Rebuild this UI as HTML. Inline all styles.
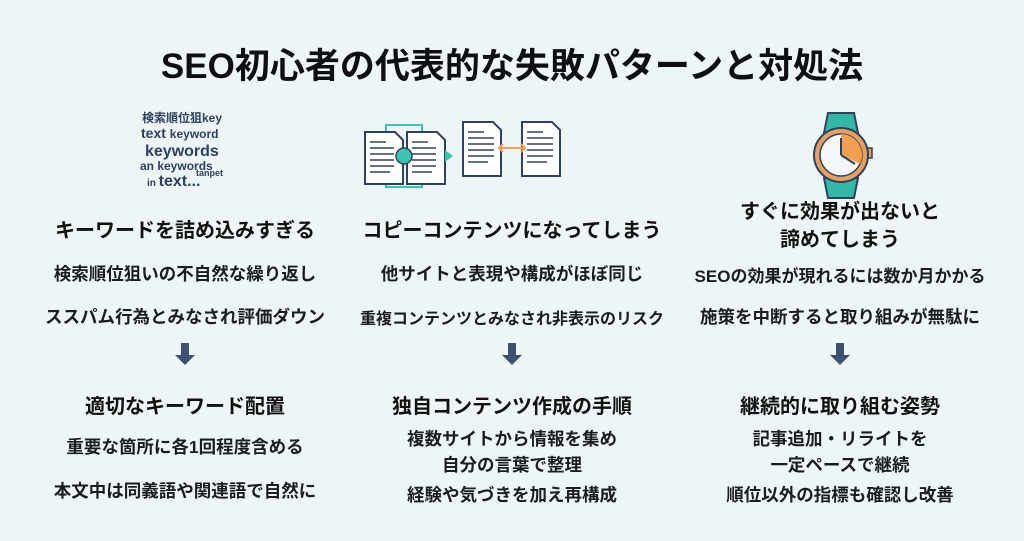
<!DOCTYPE html>
<html><head><meta charset="utf-8"><style>
body{margin:0;width:1024px;height:541px;background:#eef5f7;font-family:"Liberation Sans","Noto Sans CJK JP",sans-serif;color:#111;position:relative;overflow:hidden}
.t{position:absolute;white-space:nowrap;transform:translateX(-50%);text-align:center}
.title{font-size:35px;font-weight:bold;top:38px;left:512px;color:#0e0f12}
.h{font-size:20px;font-weight:bold;color:#111}
.b{font-size:17.5px;font-weight:bold;color:#1a1d22}
</style></head><body>
<div class="t title">SEO初心者の代表的な失敗パターンと対処法</div>

<svg style="position:absolute;left:0;top:0" width="1024" height="541">
<g font-family="Liberation Sans, Noto Sans CJK JP, sans-serif" fill="#2f4160" font-weight="bold">
<text x="142" y="122" font-size="12">検索順位狙key</text>
<text x="141" y="138" font-size="14">text <tspan font-size="12">keyword</tspan></text>
<text x="145" y="156" font-size="16">keywords</text>
<text x="140" y="170" font-size="12">an keywords</text>
<text x="147" y="186" font-size="10">in <tspan font-size="16">text...</tspan></text>
<text x="196" y="176" font-size="9">tanpet</text>
</g>
<rect x="386" y="125" width="36" height="62" fill="none" stroke="#3cc4b0" stroke-width="2"/>
<g stroke="#2f4160" stroke-width="2" fill="#fff">
<path d="M365 132h30l8 8v44h-38z"/><path d="M407 132h30l8 8v44h-38z"/>
<path d="M463 122h30l8 8v46h-38z"/><path d="M522 122h30l8 8v46h-38z"/>
</g>
<g stroke="#2f4160" stroke-width="1.5">
<path d="M370 142h16M370 148h24M370 154h24M370 160h24M370 166h24M370 172h20M412 142h16M412 148h24M412 154h24M412 160h24M412 166h24M412 172h20"/>
<path d="M468 132h16M468 138h26M468 144h26M468 150h26M468 156h26M468 162h20M527 132h16M527 138h26M527 144h26M527 150h26M527 156h26M527 162h20"/>
</g>
<circle cx="404" cy="156" r="8" fill="#3cc4b0" stroke="#2f4160" stroke-width="1.5"/>
<path d="M445 150l8 6-8 6z" fill="#3cc4b0"/>
<path d="M499 148h26M503 144l-4 4 4 4M521 144l4 4-4 4" stroke="#f0a050" stroke-width="2" fill="none"/>
<path d="M828 113h26l4 20h-34z M824 178h34l-4 20h-26z" fill="#33b8a8" stroke="#2f4160" stroke-width="2"/>
<rect x="867" y="148" width="5" height="10" fill="#e8a060" stroke="#2f4160" stroke-width="1.5"/>
<circle cx="841" cy="155" r="27" fill="#e8a060" stroke="#2f4160" stroke-width="2"/>
<circle cx="841" cy="155" r="21" fill="#f4f8fa" stroke="#2f4160" stroke-width="1.5"/>
<path d="M841 155V134A21 21 0 0 1 860 164Z" fill="#f0a050"/>
<path d="M841 155V138M841 155l14 9" stroke="#2f4160" stroke-width="2"/>
<g fill="#3d5272">
<path d="M181 343h8v12h6l-10 10-10-10h6z"/>
<path d="M508 343h8v12h6l-10 10-10-10h6z"/>
<path d="M836 343h8v12h6l-10 10-10-10h6z"/>
</g>
</svg>

<div class="t h" style="left:185px;top:214px">キーワードを詰め込みすぎる</div>
<div class="t h" style="left:512px;top:214px">コピーコンテンツになってしまう</div>
<div class="t h" style="left:840px;top:198px;line-height:28px">すぐに効果が出ないと<br>諦めてしまう</div>

<div class="t b" style="left:185px;top:261px">検索順位狙いの不自然な繰り返し</div>
<div class="t b" style="left:185px;top:304px">ススパム行為とみなされ評価ダウン</div>
<div class="t b" style="left:512px;top:261px">他サイトと表現や構成がほぼ同じ</div>
<div class="t b" style="left:512px;top:305px;font-size:16px">重複コンテンツとみなされ非表示のリスク</div>
<div class="t b" style="left:840px;top:262px;font-size:17px">SEOの効果が現れるには数か月かかる</div>
<div class="t b" style="left:840px;top:304px">施策を中断すると取り組みが無駄に</div>

<div class="t h" style="left:185px;top:390px">適切なキーワード配置</div>
<div class="t h" style="left:512px;top:390px">独自コンテンツ作成の手順</div>
<div class="t h" style="left:840px;top:390px">継続的に取り組む姿勢</div>

<div class="t b" style="left:185px;top:434px">重要な箇所に各1回程度含める</div>
<div class="t b" style="left:185px;top:478px">本文中は同義語や関連語で自然に</div>
<div class="t b" style="left:512px;top:426px;line-height:26px">複数サイトから情報を集め<br>自分の言葉で整理</div>
<div class="t b" style="left:512px;top:482px">経験や気づきを加え再構成</div>
<div class="t b" style="left:840px;top:426px;line-height:26px">記事追加・リライトを<br>一定ペースで継続</div>
<div class="t b" style="left:840px;top:482px">順位以外の指標も確認し改善</div>
</body></html>
